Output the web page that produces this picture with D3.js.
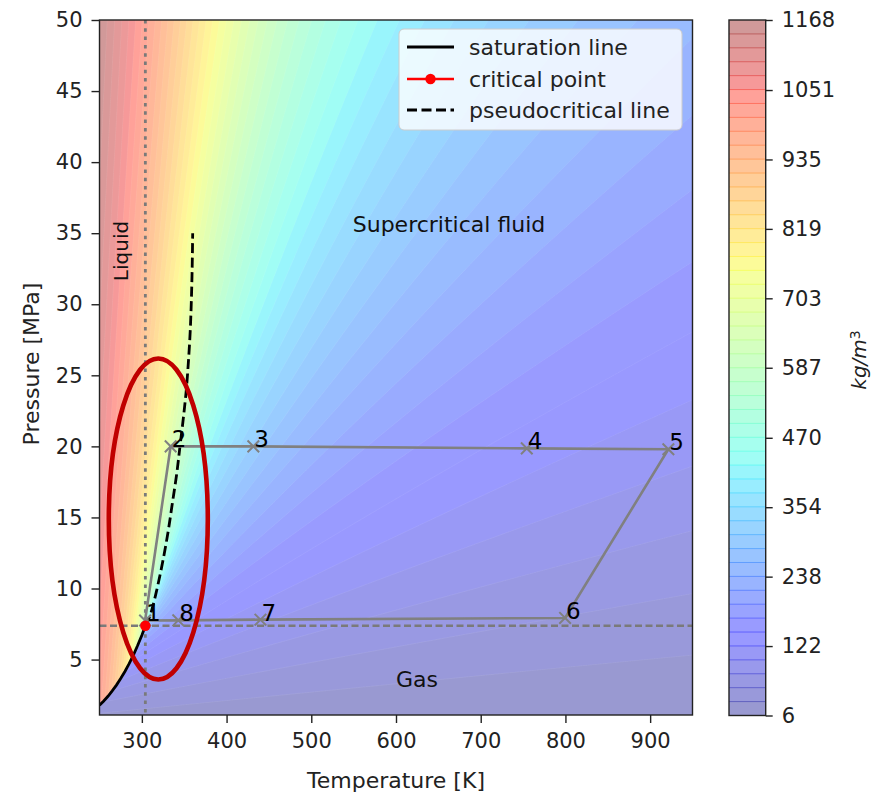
<!DOCTYPE html>
<html><head><meta charset="utf-8">
<script src="https://cdn.jsdelivr.net/npm/d3@7"></script>
<style>
body{margin:0;background:#fff;}
text{font-family:"DejaVu Sans",sans-serif;}
</style>
</head><body>
<svg id="chart" width="874" height="794"></svg>
<script>
// ---------------- data ----------------
const xDomain = [250, 950];
const yDomain = [1.1, 50];
const xTicks = [300, 400, 500, 600, 700, 800, 900];
const yTicks = [5, 10, 15, 20, 25, 30, 35, 40, 45, 50];
const densityRange = [6, 1168];
const nLevels = 50;
const cbarTicks = [6, 122, 238, 354, 470, 587, 703, 819, 935, 1051, 1168];

// saturation line of CO2 (T in K, P in MPa)
const satT = [250, 255, 260, 265, 270, 275, 280, 285, 290, 295, 300, 302, 304.13];
const satP = [1.785, 2.090, 2.419, 2.794, 3.203, 3.662, 4.161, 4.710, 5.318, 5.990, 6.713, 7.027, 7.377];

// critical point
const criticalT = 304.13, criticalP = 7.377;

// pseudocritical line
const pcP = [7.377, 8, 9, 10, 12, 14, 16, 18, 20, 22, 24, 26, 28, 30, 32, 35];
const pcT = [304.13, 309, 314, 318, 325, 331, 336, 341, 345, 349, 352.5, 355, 357, 358.3, 359.2, 360];

// cycle state points
const cycleLabels = ["1", "2", "3", "4", "5", "6", "7", "8"];
const cycleT = [303.8, 334, 431.6, 754.4, 921.5, 799.6, 440, 343];
const cycleP = [7.75, 20.0, 20.0, 19.86, 19.8, 7.93, 7.81, 7.76];

// CO2 constants for the density field (Peng-Robinson)
const co2Tc = 304.1282, co2Pc = 7.3773, co2Omega = 0.22394, co2M = 0.0440098;
const refT = 250, refP = 50, refRho = 1168;

// legend entries
const legendLabels = ["saturation line", "critical point", "pseudocritical line"];

// ---------------- layout ----------------
const svg = d3.select("#chart");
const P = {left: 99.5, right: 692.5, top: 20, bottom: 715};
const x = d3.scaleLinear().domain(xDomain).range([P.left, P.right]);
const y = d3.scaleLinear().domain(yDomain).range([P.bottom, P.top]);
const FS = 21, FL = 22;

// ---------------- colormap ----------------
function interpSeg(seg, t) {
  for (let i = 1; i < seg.length; i++) {
    if (t <= seg[i][0]) {
      const [x0, y0] = seg[i - 1], [x1, y1] = seg[i];
      return y0 + (y1 - y0) * (t - x0) / (x1 - x0);
    }
  }
  return seg[seg.length - 1][1];
}
const jetR = [[0, 0], [0.35, 0], [0.66, 1], [0.89, 1], [1, 0.5]];
const jetG = [[0, 0], [0.125, 0], [0.375, 1], [0.64, 1], [0.91, 0], [1, 0]];
const jetB = [[0, 0.5], [0.11, 1], [0.34, 1], [0.65, 0], [1, 0]];
function jet(t, alpha) {
  t = Math.max(0, Math.min(1, t));
  const c = [interpSeg(jetR, t), interpSeg(jetG, t), interpSeg(jetB, t)]
    .map(v => Math.round(255 * (v * alpha + (1 - alpha))));
  return `rgb(${c[0]},${c[1]},${c[2]})`;
}
const levels = d3.range(nLevels + 1).map(i => densityRange[0] + i * (densityRange[1] - densityRange[0]) / nLevels);

// ---------------- density field (Peng-Robinson EOS) ----------------
const Rg = 8.314462618;
const prA = 0.45724 * Rg * Rg * co2Tc * co2Tc / (co2Pc * 1e6);
const prB = 0.07780 * Rg * co2Tc / (co2Pc * 1e6);
const prK = 0.37464 + 1.54226 * co2Omega - 0.26992 * co2Omega * co2Omega;
function solveCubic(a, b, c) {
  const q = (a * a - 3 * b) / 9, r = (2 * a * a * a - 9 * a * b + 27 * c) / 54;
  if (r * r < q * q * q) {
    const th = Math.acos(r / Math.sqrt(q * q * q)), s = -2 * Math.sqrt(q);
    return [s * Math.cos(th / 3) - a / 3, s * Math.cos((th + 2 * Math.PI) / 3) - a / 3, s * Math.cos((th - 2 * Math.PI) / 3) - a / 3];
  }
  const A_ = -Math.sign(r) * Math.cbrt(Math.abs(r) + Math.sqrt(r * r - q * q * q));
  const B_ = A_ === 0 ? 0 : q / A_;
  return [A_ + B_ - a / 3];
}
function satPressure(T) {
  if (T <= satT[0]) return satP[0];
  for (let i = 1; i < satT.length; i++) if (T <= satT[i]) return satP[i - 1] + (satP[i] - satP[i - 1]) * (T - satT[i - 1]) / (satT[i] - satT[i - 1]);
  return Infinity;
}
function prVolume(T, Pm) {
  const Pa = Pm * 1e6;
  const al = Math.pow(1 + prK * (1 - Math.sqrt(T / co2Tc)), 2);
  const A = prA * al * Pa / (Rg * Rg * T * T), B = prB * Pa / (Rg * T);
  const roots = solveCubic(-(1 - B), A - 3 * B * B - 2 * B, -(A * B - B * B - B * B * B)).filter(z => z > B);
  let Z;
  if (roots.length === 1) Z = roots[0];
  else if (T < co2Tc) Z = Pm > satPressure(T) ? d3.min(roots) : d3.max(roots);
  else {
    const lnphi = z => z - 1 - Math.log(z - B) - A / (2 * Math.SQRT2 * B) * Math.log((z + (1 + Math.SQRT2) * B) / (z + (1 - Math.SQRT2) * B));
    Z = d3.least(roots, lnphi);
  }
  return Z * Rg * T / Pa;
}
const vShift = prVolume(refT, refP) - co2M / refRho;
const density = (T, Pm) => co2M / (prVolume(T, Pm) - vShift);

const T0 = 246, dT = 2, nx = 357;
const P0 = 0.9, dP = 0.125, ny = 402;
const values = new Float64Array(nx * ny);
for (let j = 0; j < ny; j++) for (let i = 0; i < nx; i++) values[j * nx + i] = density(T0 + i * dT, P0 + j * dP);

// ---------------- draw contours ----------------
const defs = svg.append("defs");
defs.append("clipPath").attr("id", "plotclip").append("rect")
  .attr("x", P.left).attr("y", P.top).attr("width", P.right - P.left).attr("height", P.bottom - P.top);

const proj = d3.geoTransform({
  point: function (gx, gy) { this.stream.point(x(T0 + (gx - 0.5) * dT), y(P0 + (gy - 0.5) * dP)); }
});
const gpath = d3.geoPath(proj);
const contours = d3.contours().size([nx, ny]).thresholds(levels.slice(0, nLevels))(values);

const gPlot = svg.append("g").attr("clip-path", "url(#plotclip)");
gPlot.append("rect").attr("x", P.left).attr("y", P.top).attr("width", P.right - P.left).attr("height", P.bottom - P.top)
  .attr("fill", jet(0.5 / nLevels, 0.4));
gPlot.selectAll("path.band").data(contours).join("path").attr("class", "band")
  .attr("d", gpath)
  .attr("fill", (d, i) => jet((i + 0.5) / nLevels, 0.4))
  .attr("stroke", "rgba(255,255,255,0.13)").attr("stroke-width", 0.6);

// reference lines
const line = d3.line().x(d => x(d[0])).y(d => y(d[1]));
gPlot.append("line").attr("x1", x(criticalT)).attr("x2", x(criticalT)).attr("y1", P.top).attr("y2", P.bottom)
  .attr("stroke", "#7a7a7a").attr("stroke-width", 2.8).attr("stroke-dasharray", "3.5,4.8");
gPlot.append("line").attr("x1", P.left).attr("x2", P.right).attr("y1", y(criticalP)).attr("y2", y(criticalP))
  .attr("stroke", "#7a7a7a").attr("stroke-width", 2.6).attr("stroke-dasharray", "7,3.5");

// saturation line
gPlot.append("path").attr("d", line(satT.map((t, i) => [t, satP[i]])))
  .attr("fill", "none").attr("stroke", "#000").attr("stroke-width", 2.8);
// pseudocritical line
gPlot.append("path").attr("d", d3.line().curve(d3.curveMonotoneY).x(d => x(d[0])).y(d => y(d[1]))(pcT.map((t, i) => [t, pcP[i]])))
  .attr("fill", "none").attr("stroke", "#000").attr("stroke-width", 2.8).attr("stroke-dasharray", "10,4.5");

// cycle
const cyc = cycleT.map((t, i) => [t, cycleP[i]]);
gPlot.append("path").attr("d", line(cyc.concat([cyc[0]])))
  .attr("fill", "none").attr("stroke", "#808080").attr("stroke-width", 2.6);
const ms = 5.8;
gPlot.selectAll("path.mk").data(cyc).join("path").attr("class", "mk")
  .attr("d", d => { const cx = x(d[0]), cy = y(d[1]); return `M${cx - ms},${cy - ms}L${cx + ms},${cy + ms}M${cx - ms},${cy + ms}L${cx + ms},${cy - ms}`; })
  .attr("stroke", "#808080").attr("stroke-width", 2).attr("fill", "none");
// critical point
gPlot.append("circle").attr("cx", x(criticalT)).attr("cy", y(criticalP)).attr("r", 5.2).attr("fill", "#ff0000");

// labels of points
svg.selectAll("text.pt").data(cyc).join("text").attr("class", "pt")
  .attr("x", d => x(d[0]) + 1).attr("y", d => y(d[1]) + 1)
  .attr("font-size", 23).attr("fill", "#000").text((d, i) => cycleLabels[i]);

// region labels
svg.append("text").attr("transform", `translate(128,251) rotate(-90)`).attr("text-anchor", "middle")
  .attr("font-size", 20).attr("fill", "#111").text("Liquid");
svg.append("text").attr("x", 449).attr("y", 232).attr("text-anchor", "middle")
  .attr("font-size", FL).attr("fill", "#111").text("Supercritical fluid");
svg.append("text").attr("x", 417).attr("y", 687).attr("text-anchor", "middle")
  .attr("font-size", FL).attr("fill", "#111").text("Gas");

// ---------------- axes ----------------
const axX = svg.append("g").attr("transform", `translate(0,${P.bottom})`)
  .call(d3.axisBottom(x).tickValues(xTicks).tickSize(8).tickPadding(10).tickSizeOuter(0));
const axY = svg.append("g").attr("transform", `translate(${P.left},0)`)
  .call(d3.axisLeft(y).tickValues(yTicks).tickSize(8).tickPadding(9).tickSizeOuter(0));
[axX, axY].forEach(a => {
  a.select(".domain").remove();
  a.selectAll("line").attr("stroke", "#222").attr("stroke-width", 1.4);
  a.selectAll("text").attr("font-size", FS).attr("fill", "#222").attr("font-family", "DejaVu Sans");
});
svg.append("rect").attr("x", P.left).attr("y", P.top).attr("width", P.right - P.left).attr("height", P.bottom - P.top)
  .attr("fill", "none").attr("stroke", "#222").attr("stroke-width", 1.4);

svg.append("text").attr("x", (P.left + P.right) / 2).attr("y", 788).attr("text-anchor", "middle")
  .attr("font-size", FL).attr("fill", "#222").text("Temperature [K]");
svg.append("text").attr("transform", `translate(39,364) rotate(-90)`).attr("text-anchor", "middle")
  .attr("font-size", FL).attr("fill", "#222").text("Pressure [MPa]");

// ---------------- legend ----------------
const lg = svg.append("g");
lg.append("rect").attr("x", 399).attr("y", 29).attr("width", 283).attr("height", 101).attr("rx", 5)
  .attr("fill", "rgba(255,255,255,0.8)").attr("stroke", "#cccccc").attr("stroke-width", 1);
const rows = [47, 79, 110];
lg.append("line").attr("x1", 407).attr("x2", 454).attr("y1", rows[0]).attr("y2", rows[0]).attr("stroke", "#000").attr("stroke-width", 3);
lg.append("line").attr("x1", 407).attr("x2", 454).attr("y1", rows[1]).attr("y2", rows[1]).attr("stroke", "#ff0000").attr("stroke-width", 2.4);
lg.append("circle").attr("cx", 430.5).attr("cy", rows[1]).attr("r", 5.2).attr("fill", "#ff0000");
lg.append("line").attr("x1", 407).attr("x2", 454).attr("y1", rows[2]).attr("y2", rows[2]).attr("stroke", "#000").attr("stroke-width", 3).attr("stroke-dasharray", "10,4.5");
lg.selectAll("text").data(legendLabels).join("text")
  .attr("x", 469).attr("y", (d, i) => rows[i]).attr("dy", "0.35em")
  .attr("font-size", FL).attr("fill", "#222").text(d => d);

// ---------------- ellipse annotation ----------------
svg.append("ellipse").attr("cx", 158.3).attr("cy", 519).attr("rx", 49.5).attr("ry", 160.5)
  .attr("fill", "none").attr("stroke", "#c00000").attr("stroke-width", 4.6);

// ---------------- colorbar ----------------
const CB = {x0: 729, x1: 765.7, top: 20, bottom: 715.5};
const cy = d3.scaleLinear().domain(densityRange).range([CB.bottom, CB.top]);
const cb = svg.append("g");
cb.selectAll("rect.cb").data(d3.range(nLevels)).join("rect").attr("class", "cb")
  .attr("x", CB.x0).attr("width", CB.x1 - CB.x0)
  .attr("y", k => cy(levels[k + 1])).attr("height", k => cy(levels[k]) - cy(levels[k + 1]) + 0.3)
  .attr("fill", k => jet((k + 0.5) / nLevels, 0.4));
cb.selectAll("line.cbl").data(d3.range(1, nLevels)).join("line").attr("class", "cbl")
  .attr("x1", CB.x0).attr("x2", CB.x1).attr("y1", k => cy(levels[k])).attr("y2", k => cy(levels[k]))
  .attr("stroke", k => jet(k / nLevels, 0.62)).attr("stroke-width", 1);
cb.append("rect").attr("x", CB.x0).attr("y", CB.top).attr("width", CB.x1 - CB.x0).attr("height", CB.bottom - CB.top)
  .attr("fill", "none").attr("stroke", "#222").attr("stroke-width", 1.4);
const axC = svg.append("g").attr("transform", `translate(${CB.x1},0)`)
  .call(d3.axisRight(cy).tickValues(cbarTicks).tickFormat(d3.format("d")).tickSize(7).tickPadding(9).tickSizeOuter(0));
axC.select(".domain").remove();
axC.selectAll("line").attr("stroke", "#222").attr("stroke-width", 1.4);
axC.selectAll("text").attr("font-size", FS).attr("fill", "#222").attr("font-family", "DejaVu Sans");

const cl = svg.append("text").attr("transform", `translate(866,360) rotate(-90)`).attr("text-anchor", "middle")
  .attr("font-size", 20).attr("fill", "#222").attr("font-style", "italic");
cl.append("tspan").text("kg/m");
cl.append("tspan").attr("dy", "-0.45em").attr("font-size", 14).attr("font-style", "normal").text("3");
</script>
</body></html>
